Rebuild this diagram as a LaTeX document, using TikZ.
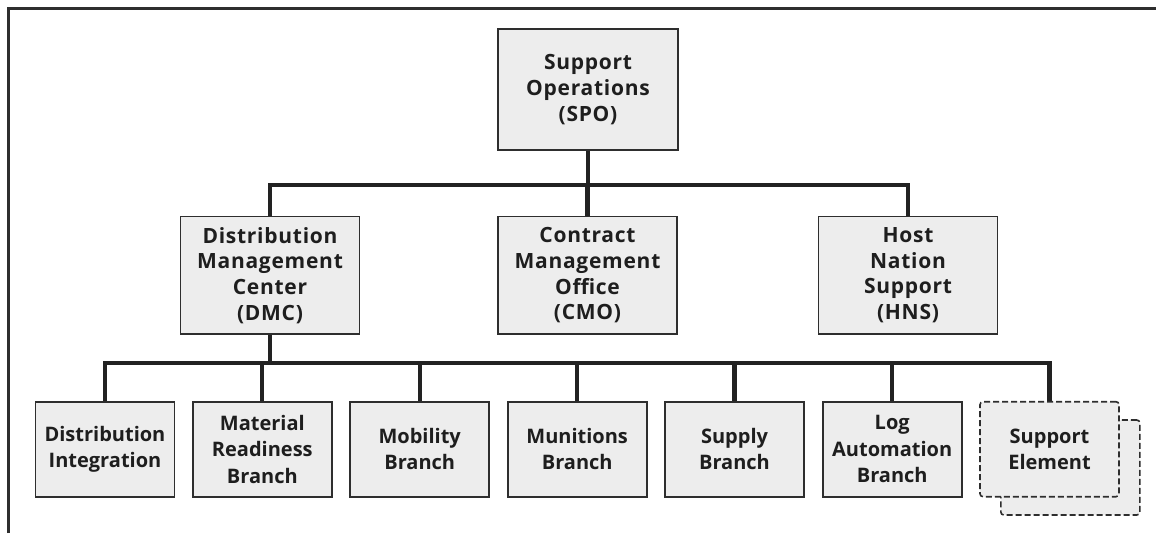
\documentclass[tikz,border=0pt]{standalone}
\usepackage{fontspec}
\setmainfont{Open Sans}
\newfontfamily\spacedfont{Open Sans}[LetterSpace=3.5]
\definecolor{boxfill}{HTML}{EDEDED}
\definecolor{lineclr}{HTML}{222222}
\definecolor{edgeclr}{HTML}{2E2E2E}
\definecolor{textclr}{HTML}{1E1E1E}
\begin{document}
\begin{tikzpicture}[x=1pt,y=-1pt,
  frame/.style={draw=edgeclr,line width=2.6pt},
  conn/.style={draw=lineclr,line width=4.2pt,line join=miter},
  basebox/.style={draw=edgeclr,fill=boxfill,text=textclr,line width=1.8pt,inner sep=0pt,align=center},
  topbox/.style={basebox,minimum width=180pt,minimum height=121pt,font=\spacedfont\bfseries\fontsize{21}{26}\selectfont},
  midbox/.style={basebox,minimum width=179pt,minimum height=117.5pt,font=\spacedfont\bfseries\fontsize{21}{25.7}\selectfont},
  lowbox/.style={basebox,minimum width=139pt,minimum height=95pt,font=\bfseries\fontsize{20}{26.5}\selectfont},
  dashbox/.style={lowbox,dashed,dash pattern=on 6pt off 3pt,rounded corners=3pt,line width=1.6pt}
]
\useasboundingbox (0,0) rectangle (1156,533);
\draw[frame] (8.7,533) -- (8.7,8.7) -- (1156,8.7);

\node[topbox] (spo) at (588,89.5) {Support\\Operations\\(SPO)};
\node[midbox] (dmc) at (270,275.3) {Distribution\\Management\\Center\\(DMC)};
\node[midbox] (cmo) at (587.5,275.3) {Contract\\Management\\Office\\(CMO)};
\node[midbox] (hns) at (908,275.3) {Host\\Nation\\Support\\(HNS)};

\node[lowbox] (di) at (105,449.2) {Distribution\\Integration};
\node[lowbox] (mr) at (262.3,449.2) {Material\\Readiness\\Branch};
\node[lowbox] (mo) at (419.7,449.2) {Mobility\\Branch};
\node[lowbox] (mu) at (577.2,449.2) {Munitions\\Branch};
\node[lowbox] (su) at (734.5,449.2) {Supply\\Branch};
\node[lowbox] (la) at (892.2,449.2) {Log\\Automation\\Branch};
\node[dashbox] (seback) at (1070.3,467.5) {};
\node[dashbox] (se) at (1049.5,449.2) {Support\\Element};

\coordinate (b1) at (588,185);
\coordinate (b2) at (270,363);

\draw[conn] (spo.south) -- (b1);
\draw[conn] (dmc.north) |- (b1) -| (hns.north);
\draw[conn] (cmo.north) -- (cmo.north |- b1);

\draw[conn] (dmc.south) -- (b2);
\draw[conn] (di.north) |- (b2) -| (se.north);
\draw[conn] (mr.north) -- (mr.north |- b2);
\draw[conn] (mo.north) -- (mo.north |- b2);
\draw[conn] (mu.north) -- (mu.north |- b2);
\draw[conn] (su.north) -- (su.north |- b2);
\draw[conn] (la.north) -- (la.north |- b2);
\end{tikzpicture}
\end{document}
